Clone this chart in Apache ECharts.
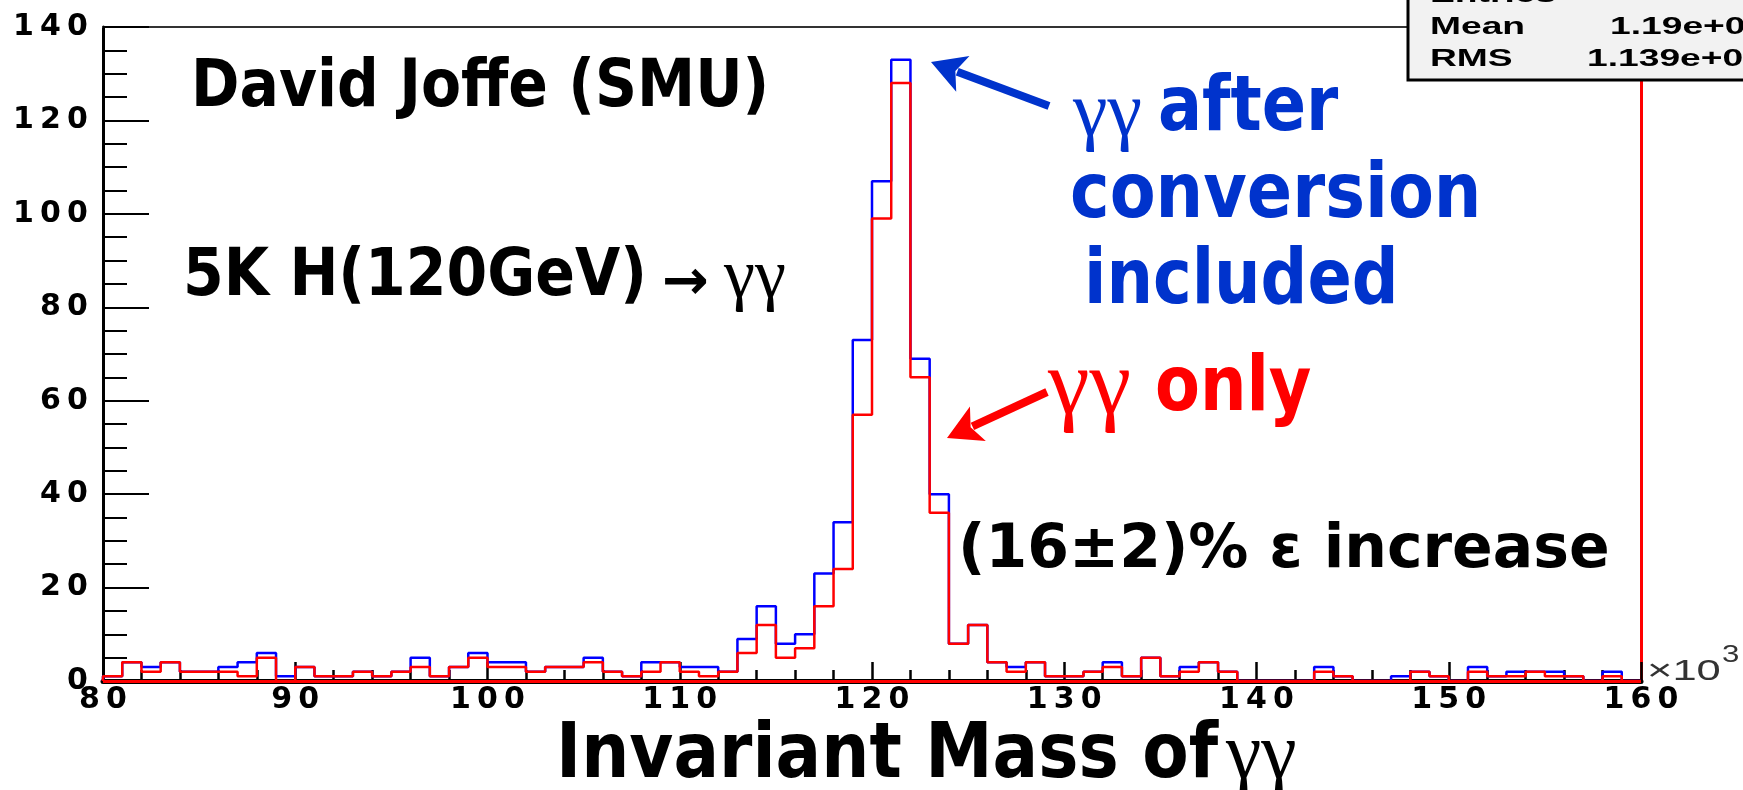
<!DOCTYPE html>
<html>
<head>
<meta charset="utf-8">
<script src="https://cdn.jsdelivr.net/npm/echarts@6.0.0/dist/echarts.min.js"></script>
<style>
html,body{margin:0;padding:0;background:#ffffff;}
#chart{width:1743px;height:790px;}
</style>
</head>
<body>
<div id="chart"></div>
<script>
// ---- data (bin low edges in GeV, x10^3 on axis) ----
const binLowEdges = [80,81,82,83,84,85,86,87,88,89,90,91,92,93,94,95,96,97,98,99,
  100,101,102,103,104,105,106,107,108,109,110,111,112,113,114,115,116,117,118,119,
  120,121,122,123,124,125,126,127,128,129,130,131,132,133,134,135,136,137,138,139,
  140,141,142,143,144,145,146,147,148,149,150,151,152,153,154,155,156,157,158,159];
const binUpperEnd = 160;

// gamma-gamma after conversion included (blue)
const convIncluded = [1,4,3,4,2,2,3,4,6,1,3,1,1,2,1,2,5,1,3,6,
  4,4,2,3,3,5,2,1,4,4,3,3,2,9,16,8,10,23,34,73,
  107,133,69,40,8,12,4,3,4,1,1,2,4,1,5,1,3,4,2,0,
  0,0,0,3,1,0,0,1,2,1,0,3,1,2,2,2,1,0,2,0];

// gamma-gamma only (red)
const gammaOnly = [1,4,2,4,2,2,2,1,5,0,3,1,1,2,1,2,3,1,3,5,
  3,3,2,3,3,4,2,1,2,4,2,1,2,6,12,5,7,16,24,57,
  99,128,65,36,8,12,4,2,4,1,1,2,3,1,5,1,2,4,2,0,
  0,0,0,2,1,0,0,0,2,1,0,2,1,1,2,1,1,0,1,0];

const xRange = [80, 160];
const yRange = [0, 140];
const statsLabels = ['Entries', 'Mean', 'RMS'];
const statsValues = ['', '1.19e+0', '1.139e+0'];

function histData(counts) {
  const d = [[binLowEdges[0], 0]];
  for (let i = 0; i < binLowEdges.length; i++) d.push([binLowEdges[i], counts[i]]);
  d.push([binUpperEnd, counts[counts.length - 1]]);
  d.push([binUpperEnd, 0]);
  return d;
}

function spaced(v) {
  return String(v).split('').map(c => '{d|' + c + '}').join('');
}
const tickRich = { d: { width: 27, align: 'center', fontFamily: 'DejaVu Sans', fontWeight: 'bold', fontSize: 30, color: '#000' } };

const SH = '#b4b4b4';
function txt(text, x, y, font, fill, scaleX, shadow) {
  const e = {
    type: 'text', x: x, y: y, z: 100, scaleX: scaleX || 1,
    style: {
      text: text, font: font, fill: fill,
      align: 'left', verticalAlign: 'middle', textAlign: 'left', textVerticalAlign: 'middle'
    }
  };
  if (shadow) {
    e.style.textShadowColor = SH;
    e.style.textShadowOffsetX = shadow;
    e.style.textShadowOffsetY = shadow;
    e.style.textShadowBlur = 0;
  }
  return e;
}
function arrow(tail, tip, headLen, headHalf, width, color) {
  const dx = tip[0] - tail[0], dy = tip[1] - tail[1];
  const L = Math.sqrt(dx * dx + dy * dy);
  const ux = dx / L, uy = dy / L;
  const bx = tip[0] - ux * headLen, by = tip[1] - uy * headLen;
  const nx = -uy, ny = ux;
  return [
    { type: 'line', z: 100, shape: { x1: tail[0], y1: tail[1], x2: bx + ux * 6, y2: by + uy * 6 },
      style: { stroke: color, lineWidth: width } },
    { type: 'polygon', z: 100, shape: { points: [tip, [bx + nx * headHalf, by + ny * headHalf], [bx + ux * 8, by + uy * 8], [bx - nx * headHalf, by - ny * headHalf]] },
      style: { fill: color } }
  ];
}

const BOLD = '"DejaVu Sans"';
const BLUE = '#0033cc';
const RED = '#ff0000';

const graphics = [];
// annotations
graphics.push(txt('David Joffe (SMU)', 191, 89, 'bold 66px ' + BOLD, '#000', 0.885, 3));
graphics.push(txt('5K H(120GeV)', 183, 278, 'bold 65px ' + BOLD, '#000', 0.9, 3));
graphics.push(txt('\u2192', 662, 284, 'bold 56px "DejaVu Sans"', '#000', 1, 3));
graphics.push(txt('\u03b3\u03b3', 724, 279, '70px "Liberation Serif"', '#000', 1, 3));

graphics.push(txt('\u03b3\u03b3', 1073, 115, '78px "Liberation Serif"', BLUE, 1, 3));
graphics.push(txt('after', 1158, 110, 'bold 76px ' + BOLD, BLUE, 0.86, 3));
graphics.push(txt('conversion', 1070, 197, 'bold 76px ' + BOLD, BLUE, 0.88, 3));
graphics.push(txt('included', 1084, 283, 'bold 76px ' + BOLD, BLUE, 0.86, 3));

graphics.push(txt('\u03b3\u03b3', 1048, 388, '94px "Liberation Serif"', RED, 1, 3));
graphics.push(txt('only', 1155, 390, 'bold 76px ' + BOLD, RED, 0.86, 3));

graphics.push(txt('(16\u00b12)% \u03b5 increase', 958, 551, 'bold 60px ' + BOLD, '#000', 1.0, 3));

graphics.push(txt('Invariant Mass of', 556, 757, 'bold 76px ' + BOLD, '#000', 0.89, 4));
graphics.push(txt('\u03b3\u03b3', 1226, 757, '80px "Liberation Serif"', '#000', 1, 4));

// exponent label
graphics.push(txt('\u00d710', 1647, 672, '30px "Liberation Sans"', '#333', 1.45, 0));
graphics.push(txt('3', 1722, 655, '24px "Liberation Sans"', '#333', 1.3, 0));

// arrows
arrow([1049, 106], [931, 62], 34, 19, 8, BLUE).forEach(g => graphics.push(g));
arrow([1047, 392], [947, 438], 34, 19, 8, RED).forEach(g => graphics.push(g));

// stats box
graphics.push({ type: 'rect', z: 100, shape: { x: 1408, y: -10, width: 400, height: 90 },
  style: { fill: '#f2f2f2', stroke: '#000', lineWidth: 3 } });
const statRowY = [-5, 27, 59];
for (let i = 0; i < statsLabels.length; i++) {
  graphics.push(Object.assign(txt(statsLabels[i], 1430, statRowY[i], 'bold 24px "Liberation Sans"', '#000', 1.55, 0), { z: 101 }));
}
graphics.push(Object.assign(txt(statsValues[1], 1610, statRowY[1], 'bold 24px "Liberation Sans"', '#000', 1.55, 0), { z: 101 }));
graphics.push(Object.assign(txt(statsValues[2], 1587, statRowY[2], 'bold 24px "Liberation Sans"', '#000', 1.55, 0), { z: 101 }));

const chart = echarts.init(document.getElementById('chart'), null, { renderer: 'canvas' });
chart.setOption({
  backgroundColor: '#ffffff',
  animation: false,
  grid: { left: 103, right: 102, top: 27, bottom: 109, containLabel: false },
  xAxis: [
    {
      type: 'value', min: xRange[0], max: xRange[1], interval: 10, position: 'bottom',
      axisLine: { show: true, onZero: false, lineStyle: { color: '#000', width: 5 } },
      axisTick: { show: true, inside: true, length: 19, lineStyle: { color: '#000', width: 2.5 } },
      minorTick: { show: true, splitNumber: 5, length: 11, lineStyle: { color: '#000', width: 2.5 } },
      splitLine: { show: false },
      axisLabel: { margin: 4, fontSize: 30, fontWeight: 'bold', fontFamily: 'DejaVu Sans', color: '#000',
        formatter: spaced, rich: tickRich, showMinLabel: true, showMaxLabel: true }
    },
    {
      type: 'value', min: xRange[0], max: xRange[1], position: 'top',
      axisLine: { show: true, onZero: false, lineStyle: { color: '#333', width: 2 } },
      axisTick: { show: false }, axisLabel: { show: false }, splitLine: { show: false }
    }
  ],
  yAxis: [
    {
      type: 'value', min: yRange[0], max: yRange[1], interval: 20, position: 'left',
      axisLine: { show: true, onZero: false, lineStyle: { color: '#000', width: 3 } },
      axisTick: { show: true, inside: true, length: 46, lineStyle: { color: '#000', width: 2 } },
      minorTick: { show: true, splitNumber: 4, length: 24, lineStyle: { color: '#000', width: 2 } },
      splitLine: { show: false },
      axisLabel: { margin: 12, fontSize: 30, fontWeight: 'bold', fontFamily: 'DejaVu Sans', color: '#000',
        formatter: spaced, rich: tickRich }
    },
    {
      type: 'value', min: yRange[0], max: yRange[1], position: 'right',
      axisLine: { show: true, onZero: false, lineStyle: { color: RED, width: 3 } },
      axisTick: { show: false }, axisLabel: { show: false }, splitLine: { show: false }
    }
  ],
  series: [
    {
      name: 'conversion included', type: 'line', step: 'end', xAxisIndex: 0, yAxisIndex: 0,
      symbol: 'none', data: histData(convIncluded),
      lineStyle: { color: '#0000ff', width: 2.5 }, z: 3
    },
    {
      name: 'gamma gamma only', type: 'line', step: 'end', xAxisIndex: 0, yAxisIndex: 0,
      symbol: 'none', data: histData(gammaOnly),
      lineStyle: { color: RED, width: 2.5 }, z: 4,
      markLine: {
        silent: true, symbol: ['none', 'none'], label: { show: false },
        lineStyle: { color: RED, width: 3, type: 'solid' },
        data: [{ yAxis: 0 }]
      }
    }
  ],
  graphic: { elements: graphics }
});
</script>
</body>
</html>
